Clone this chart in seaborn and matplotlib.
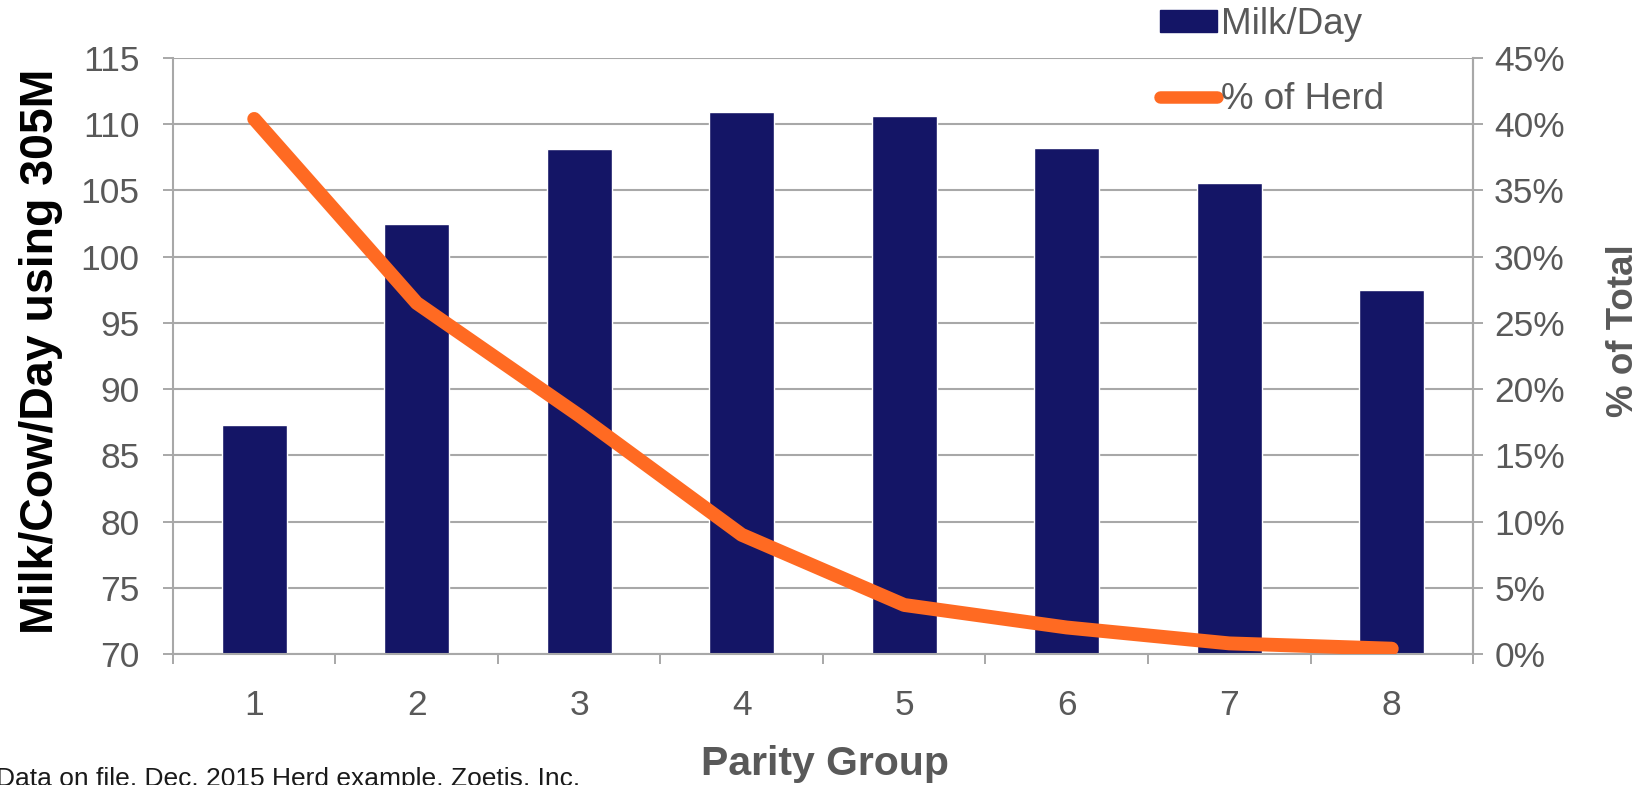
import numpy as np
import pandas as pd
import matplotlib
matplotlib.use("Agg")
import matplotlib.pyplot as plt
from matplotlib.lines import Line2D
from matplotlib.patches import Patch
from matplotlib.ticker import PercentFormatter, FixedLocator
import seaborn as sns

# Data
parity = ["1", "2", "3", "4", "5", "6", "7", "8"]
milk_per_day = [87.3, 102.5, 108.1, 110.9, 110.6, 108.2, 105.6, 97.5]
pct_of_herd = [40.4, 26.5, 18.0, 9.0, 3.7, 2.0, 0.8, 0.4]

left_ticks = [70, 75, 80, 85, 90, 95, 100, 105, 110, 115]
right_ticks = [0, 5, 10, 15, 20, 25, 30, 35, 40, 45]

BAR = "#141566"
LINE = "#FF6A22"
GRID = "#A8A8A8"
TXT = "#595959"

sns.set_theme(style="white")
plt.rcParams["font.family"] = ["Liberation Sans", "DejaVu Sans"]

fig = plt.figure(figsize=(16.44, 7.85), dpi=100)
ax = fig.add_axes([0.1052, 0.1669, 0.7908, 0.7592])

df = pd.DataFrame({"Parity": parity, "Milk": milk_per_day})
sns.barplot(data=df, x="Parity", y="Milk", color=BAR, saturation=1,
            width=0.4, ax=ax, zorder=2)

ax.set_ylim(left_ticks[0], left_ticks[-1])
ax.set_yticks(left_ticks)
ax.set_xlim(-0.5, len(parity) - 0.5)
ax.set_axisbelow(True)
ax.yaxis.grid(True, color=GRID, linewidth=1.5)
ax.xaxis.grid(False)

ax.spines["top"].set_visible(False)
for side in ["left", "bottom", "right"]:
    ax.spines[side].set_color(GRID)
    ax.spines[side].set_linewidth(1.5)

# category boundary ticks on the x axis
ax.xaxis.set_minor_locator(FixedLocator(np.arange(-0.5, len(parity), 1.0)))
ax.tick_params(axis="x", which="minor", bottom=True, length=7.5, width=1.4,
               color=GRID, direction="out")
ax.tick_params(axis="x", which="major", bottom=True, length=0, pad=25,
               labelsize=25.5, labelcolor=TXT)
ax.tick_params(axis="y", which="major", left=True, length=7.2, width=1.4,
               color=GRID, direction="out", pad=17, labelsize=25.5,
               labelcolor=TXT)

ax.set_xlabel("Parity Group", fontsize=29.5, fontweight="bold", color=TXT)
ax.xaxis.label.set_va("center")
ax.xaxis.set_label_coords(0.5015, -0.184)
ax.set_ylabel("Milk/Cow/Day using 305M", fontsize=33.5, fontweight="bold",
              color="black")
ax.yaxis.label.set_va("center")
ax.yaxis.set_label_coords(-0.1015, 0.508)

# Herd share on the secondary axis
ax2 = ax.twinx()
sns.lineplot(x=np.arange(len(parity)), y=pct_of_herd, ax=ax2, color=LINE,
             linewidth=10, solid_capstyle="round", solid_joinstyle="round",
             zorder=3)
ax2.set_ylim(right_ticks[0], right_ticks[-1])
ax2.set_yticks(right_ticks)
ax2.yaxis.set_major_formatter(PercentFormatter(xmax=100, decimals=0))
ax2.grid(False)
for side in ["top", "left", "bottom"]:
    ax2.spines[side].set_visible(False)
ax2.spines["right"].set_color(GRID)
ax2.spines["right"].set_linewidth(1.5)
ax2.tick_params(axis="y", right=True, length=7.2, width=1.4, color=GRID,
                direction="out", pad=8, labelsize=25.5, labelcolor=TXT)
ax2.set_ylabel("% of Total", fontsize=26.5, fontweight="bold", color=TXT,
               rotation=90)
ax2.yaxis.label.set_va("center")
ax2.yaxis.set_label_coords(1.116, 0.542)

handles = [
    Patch(facecolor=BAR, edgecolor=BAR, label="Milk/Day"),
    Line2D([0], [0], color=LINE, linewidth=9, solid_capstyle="round",
           label="% of Herd"),
]
leg = fig.legend(handles=handles, loc="upper left",
                 bbox_to_anchor=(1160 / 1644, 1 - 7 / 785), frameon=False,
                 fontsize=26.5, handlelength=1.55, handleheight=0.55,
                 handletextpad=0.12, labelspacing=1.1, borderpad=0,
                 borderaxespad=0)
for t in leg.get_texts():
    t.set_color(TXT)

fig.text(-4 / 1644, -1 / 785, "Data on file, Dec. 2015 Herd example, Zoetis, Inc.",
         fontsize=19, color="#1a1a1a", ha="left", va="baseline")

fig.savefig("out.png", dpi=100)
